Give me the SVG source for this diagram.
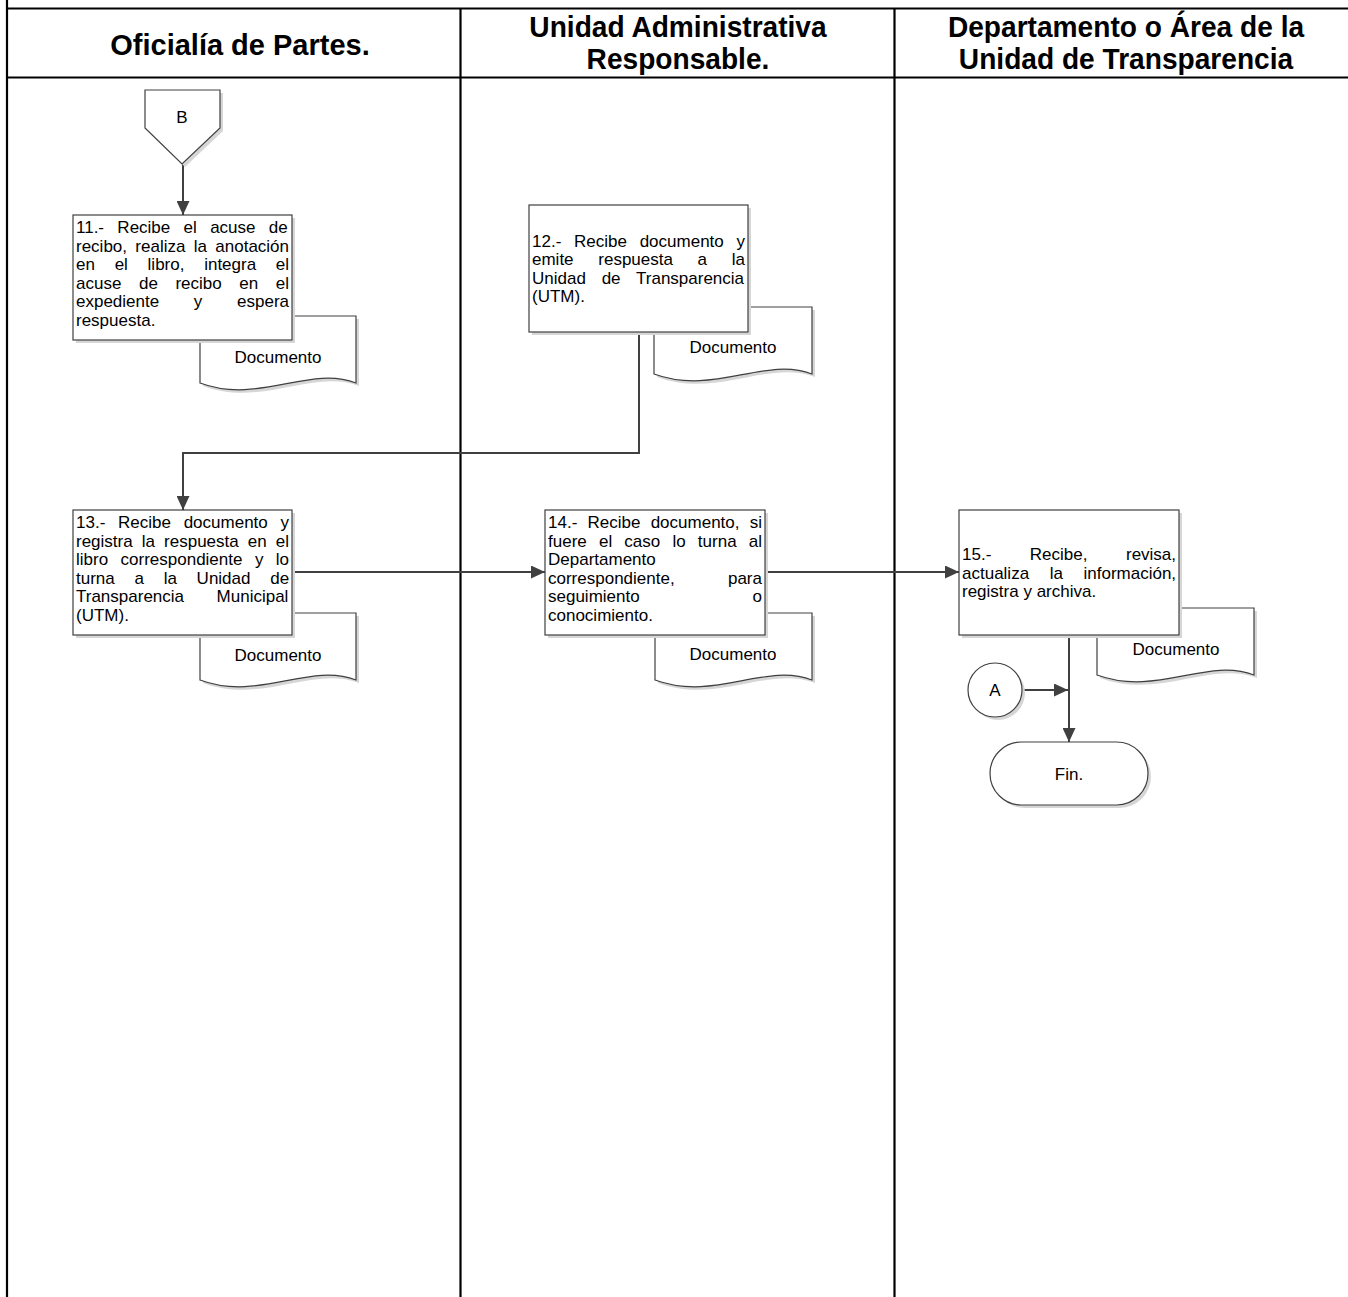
<svg xmlns="http://www.w3.org/2000/svg" width="1348" height="1297" viewBox="0 0 1348 1297">
  <style>
    .lane { stroke: #000; stroke-width: 2.2; fill: none; }
    .hdr { font-family: "Liberation Sans", Arial, sans-serif; font-weight: bold; font-size: 29px; fill: #000; }
    .txt { font-family: "Liberation Sans", Arial, sans-serif; font-size: 17px; fill: #000; }
    .box { fill: #fff; stroke: #404040; stroke-width: 1.2; }
    .shadow { fill: #d6d6d6; stroke: none; }
    .conn { fill: none; stroke: #404040; stroke-width: 2; }
  </style>
  <defs>
    <marker id="arrow" markerUnits="userSpaceOnUse" markerWidth="15" markerHeight="13" refX="14" refY="6.5" orient="auto">
      <path d="M0,0 L14,6.5 L0,13 Z" fill="#404040"/>
    </marker>
  </defs>
  <rect width="1348" height="1297" fill="#fff"/>

  <!-- swimlane frame -->
  <g id="lanes">
    <line class="lane" x1="7" y1="0" x2="7" y2="1297"/>
    <line class="lane" x1="6" y1="8.5" x2="1348" y2="8.5"/>
    <line class="lane" x1="6" y1="77.5" x2="1348" y2="77.5"/>
    <line class="lane" x1="460.5" y1="8" x2="460.5" y2="1297"/>
    <line class="lane" x1="894.5" y1="8" x2="894.5" y2="1297"/>
    <text class="hdr" text-anchor="middle" x="240" y="55" font-size="30">Oficialía de Partes.</text>
    <text class="hdr" text-anchor="middle" transform="translate(678,37) scale(0.97,1)">Unidad Administrativa</text>
    <text class="hdr" text-anchor="middle" transform="translate(678,69) scale(0.97,1)">Responsable.</text>
    <text class="hdr" text-anchor="middle" transform="translate(1126,37) scale(0.97,1)">Departamento o Área de la</text>
    <text class="hdr" text-anchor="middle" transform="translate(1126,69) scale(0.97,1)">Unidad de Transparencia</text>
  </g>

  <!-- document symbols (behind the process boxes) -->
  <g id="doc11">
    <path class="shadow" d="M203,319 H359 V386 C312,368 262,408 203,386 Z"/>
    <path class="box" d="M200,316 H356 V383 C309,365 259,405 200,383 Z"/>
    <text class="txt" text-anchor="middle" x="278" y="363">Documento</text>
  </g>
  <g id="doc12">
    <path class="shadow" d="M657,310 H815 V377 C768,359 717,399 657,377 Z"/>
    <path class="box" d="M654,307 H812 V374 C765,356 714,396 654,374 Z"/>
    <text class="txt" text-anchor="middle" x="733" y="353">Documento</text>
  </g>
  <g id="doc13">
    <path class="shadow" d="M203,616 H359 V683 C312,665 262,705 203,683 Z"/>
    <path class="box" d="M200,613 H356 V680 C309,662 259,702 200,680 Z"/>
    <text class="txt" text-anchor="middle" x="278" y="661">Documento</text>
  </g>
  <g id="doc14">
    <path class="shadow" d="M658,616 H815 V683 C768,665 718,705 658,683 Z"/>
    <path class="box" d="M655,613 H812 V680 C765,662 715,702 655,680 Z"/>
    <text class="txt" text-anchor="middle" x="733" y="660">Documento</text>
  </g>
  <g id="doc15">
    <path class="shadow" d="M1100,611 H1257 V678 C1210,660 1160,700 1100,678 Z"/>
    <path class="box" d="M1097,608 H1254 V675 C1207,657 1157,697 1097,675 Z"/>
    <text class="txt" text-anchor="middle" x="1176" y="655">Documento</text>
  </g>

  <!-- connectors -->
  <g id="connectors">
    <path class="conn" d="M183,164 V215" marker-end="url(#arrow)"/>
    <path class="conn" d="M639,332 V453 H183 V510" marker-end="url(#arrow)"/>
    <path class="conn" d="M292,572 H545" marker-end="url(#arrow)"/>
    <path class="conn" d="M765,572 H959" marker-end="url(#arrow)"/>
    <path class="conn" d="M1069,635 V742" marker-end="url(#arrow)"/>
    <path class="conn" d="M1022,690 H1068" marker-end="url(#arrow)"/>
  </g>

  <!-- off-page reference B -->
  <g id="refB">
    <path class="shadow" d="M148,93 H223 V131 L185,167 L148,131 Z"/>
    <path class="box" d="M145,90 H220 V128 L182,164 L145,128 Z"/>
    <text class="txt" text-anchor="middle" x="182" y="123">B</text>
  </g>

  <!-- step 11 -->
  <g id="step11">
    <rect class="shadow" x="76" y="218" width="219" height="125"/>
    <rect class="box" x="73" y="215" width="219" height="125"/>
    <g class="txt">
      <text x="76" y="233" word-spacing="8.6">11.- Recibe el acuse de</text>
      <text x="76" y="251.5" word-spacing="3.6">recibo, realiza la anotación</text>
      <text x="76" y="270" word-spacing="15">en el libro, integra el</text>
      <text x="76" y="288.5" word-spacing="12.85">acuse de recibo en el</text>
      <text x="76" y="307" word-spacing="29.95">expediente y espera</text>
      <text x="76" y="325.5">respuesta.</text>
    </g>
  </g>

  <!-- step 12 -->
  <g id="step12">
    <rect class="shadow" x="532" y="208" width="219" height="127"/>
    <rect class="box" x="529" y="205" width="219" height="127"/>
    <g class="txt">
      <text x="532" y="246.5" word-spacing="8">12.- Recibe documento y</text>
      <text x="532" y="265" word-spacing="19.97">emite respuesta a la</text>
      <text x="532" y="283.5" word-spacing="11.05">Unidad de Transparencia</text>
      <text x="532" y="302">(UTM).</text>
    </g>
  </g>

  <!-- step 13 -->
  <g id="step13">
    <rect class="shadow" x="76" y="513" width="219" height="125"/>
    <rect class="box" x="73" y="510" width="219" height="125"/>
    <g class="txt">
      <text x="76" y="528" word-spacing="8">13.- Recibe documento y</text>
      <text x="76" y="546.5" word-spacing="4.35">registra la respuesta en el</text>
      <text x="76" y="565" word-spacing="7.7">libro correspondiente y lo</text>
      <text x="76" y="583.5" word-spacing="15">turna a la Unidad de</text>
      <text x="76" y="602" word-spacing="27.8">Transparencia Municipal</text>
      <text x="76" y="620.5">(UTM).</text>
    </g>
  </g>

  <!-- step 14 -->
  <g id="step14">
    <rect class="shadow" x="548" y="513" width="220" height="125"/>
    <rect class="box" x="545" y="510" width="220" height="125"/>
    <g class="txt">
      <text x="548" y="528" word-spacing="5.5">14.- Recibe documento, si</text>
      <text x="548" y="546.5" word-spacing="7.46">fuere el caso lo turna al</text>
      <text x="548" y="565">Departamento</text>
      <text x="548" y="583.5" word-spacing="48.6">correspondiente, para</text>
      <text x="548" y="602" word-spacing="108.2">seguimiento o</text>
      <text x="548" y="620.5">conocimiento.</text>
    </g>
  </g>

  <!-- step 15 -->
  <g id="step15">
    <rect class="shadow" x="962" y="513" width="220" height="125"/>
    <rect class="box" x="959" y="510" width="220" height="125"/>
    <g class="txt">
      <text x="962" y="560" word-spacing="33.8">15.- Recibe, revisa,</text>
      <text x="962" y="578.5" word-spacing="15.85">actualiza la información,</text>
      <text x="962" y="597">registra y archiva.</text>
    </g>
  </g>

  <!-- on-page reference A -->
  <g id="refA">
    <circle class="shadow" cx="998" cy="693" r="27"/>
    <circle class="box" cx="995" cy="690" r="27"/>
    <text class="txt" text-anchor="middle" x="995" y="696">A</text>
  </g>

  <!-- terminator -->
  <g id="fin">
    <rect class="shadow" x="993" y="745" width="158" height="63" rx="31.5"/>
    <rect class="box" x="990" y="742" width="158" height="63" rx="31.5"/>
    <text class="txt" text-anchor="middle" x="1069" y="780">Fin.</text>
  </g>
</svg>
